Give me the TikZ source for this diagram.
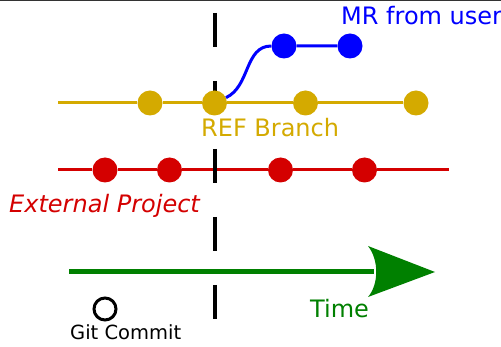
\documentclass[tikz,border=0pt]{standalone}
\usepackage{fontspec}
\setmainfont{DejaVu Sans}
\usepackage{xcolor}
\usetikzlibrary{positioning}

\definecolor{refgold}{HTML}{D4AA00}
\definecolor{extred}{HTML}{D40000}
\definecolor{mrblue}{HTML}{0000FF}
\definecolor{timegreen}{HTML}{008000}

\tikzset{
    commit/.style={circle,inner sep=0pt,minimum size=25pt,fill=#1},
    branch/.style={line width=3pt,#1},
    lbl/.style={anchor=base west,inner sep=0pt,font=\fontsize{24}{28}\selectfont},
}

\begin{document}
\begin{tikzpicture}[x=1pt,y=-1pt]

        % Background
        \fill[white] (0,0) rectangle (501,347);
        \useasboundingbox (0,0) rectangle (501,347);
        \draw[black!80,line width=1.5pt] (0,0.75) -- (501,0.75);

        % Labels
        \node[lbl,text=mrblue] (mrlabel) at (341,25) {MR from user};
        \node[lbl,text=refgold] (reflabel) at (201,137) {REF Branch};
        \node[lbl,text=extred,font=\fontsize{24}{28}\selectfont\itshape] (extlabel) at (9,213) {External Project};
        \node[lbl,text=timegreen] (timelabel) at (310,318) {Time};
        \node[lbl,font=\fontsize{19.5}{23}\selectfont] (gitlabel) at (70,340) {Git Commit};

        % External project
        \coordinate (extstart) at (58,170);
        \coordinate (extend) at (449,170);
        \foreach \x [count=\i] in {105,169.5,280.5,364.5} {
            \node[commit=extred] (ext\i) at (\x,170) {};
        }
        \draw[branch=extred] (extstart) -- (ext1) -- (ext2) -- (ext3) -- (ext4) -- (extend);

        % Checkout marker
        \coordinate (marktop) at (214.5,13);
        \coordinate (markbot) at (214.5,319);
        \draw[line width=4pt,dash pattern=on 34pt off 34pt] (marktop) -- (markbot);

        % REF branch
        \coordinate (refstart) at (58,103);
        \foreach \x [count=\i] in {150,214.5,305.5,416} {
            \node[commit=refgold] (ref\i) at (\x,103) {};
        }
        \draw[branch=refgold] (refstart) -- (ref1) -- (ref2) -- (ref3) -- (ref4);

        % MR
        \node[commit=mrblue] (mr1) at (284,46) {};
        \node[commit=mrblue] (mr2) at (350,46) {};
        \draw[branch=mrblue] (ref2) to[out=25,in=180] (mr1) -- (mr2);

        % Time arrow
        \coordinate (tstart) at (69,272);
        \coordinate (tback) at (374,272);
        \coordinate (ttip) at (435,272);
        \draw[timegreen,line width=5pt] (tstart) -- (tback);
        \fill[timegreen] (ttip) -- (368,246) .. controls (379,260) and (379,284) .. (368,297) -- cycle;

        % Legend
        \node[circle,draw,line width=3pt,fill=white,minimum size=22pt,inner sep=0pt] (legend) at (105,309) {};

\end{tikzpicture}
\end{document}
